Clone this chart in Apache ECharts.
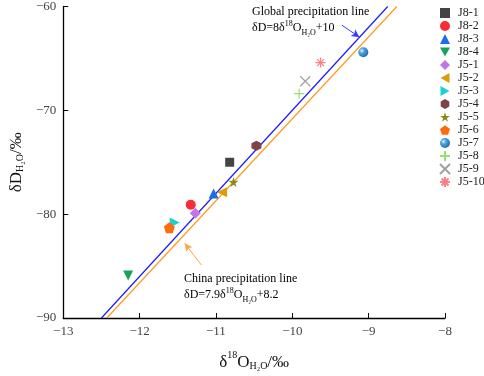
<!DOCTYPE html>
<html lang="en">
<head>
  <meta charset="UTF-8">
  <title>Precipitation lines</title>
  <style>body{margin:0;background:#fff;}</style>
</head>
<body>
  <div id="main" style="width:484px;height:376px;"></div>
  <script src="https://cdn.jsdelivr.net/npm/echarts@6/dist/echarts.min.js"></script>
  <script>
    var myChart = echarts.init(document.getElementById('main'))

    // sample names and isotope values
    var names = ['J8-1', 'J8-2', 'J8-3', 'J8-4', 'J5-1', 'J5-2', 'J5-3', 'J5-4', 'J5-5', 'J5-6', 'J5-7', 'J5-8', 'J5-9', 'J5-10']
    var o18 = [-10.82, -11.33, -11.03, -12.15, -11.27, -10.92, -11.54, -10.47, -10.77, -11.61, -9.07, -9.91, -9.83, -9.63]
    var dD = [-75.0, -79.1, -78.0, -85.9, -79.9, -77.9, -80.8, -73.4, -76.9, -81.3, -64.4, -68.4, -67.2, -65.4]

    // end points of the two meteoric water lines
    var globalLine = [[-12.5, -90], [-8.75, -60]]
    var chinaLine = [[-12.43, -90], [-8.63, -60]]

    // arrows pointing at the lines
    var globalArrow = [[-9.35, -61.8], [-9.12, -62.95]]
    var chinaArrow = [[-11.19, -84.9], [-11.41, -82.8]]

    var xTicks = [-13, -12, -11, -10, -9, -8]
    var yTicks = [-90, -80, -70, -60]

    var serif = '"Liberation Serif", "Times New Roman", serif'

    var styles = [
      { symbol: 'rect', color: '#444444', size: 9 },
      { symbol: 'circle', color: '#fa2b36', size: 10 },
      { symbol: 'triangle', color: '#1a6ee6', size: 10 },
      { symbol: 'path://M0,0 L10,0 L5,9 Z', color: '#16a35e', size: 10 },
      { symbol: 'diamond', color: '#c275e3', size: 11 },
      { symbol: 'path://M9,0 L9,10 L0,5 Z', color: '#dc9c08', size: 10 },
      { symbol: 'path://M0,0 L9,5 L0,10 Z', color: '#19d0d6', size: 10 },
      { symbol: 'path://M50,0 L93,25 L93,75 L50,100 L7,75 L7,25 Z', color: '#7e4444', size: 10 },
      { symbol: 'path://M50,0 L61,35 L98,35 L68,57 L79,91 L50,70 L21,91 L32,57 L2,35 L39,35 Z', color: '#8c8a1c', size: 10 },
      { symbol: 'path://M50,0 L98,35 L79,91 L21,91 L2,35 Z', color: '#ff6a0a', size: 11 },
      { symbol: 'circle', size: 10, color: {
          type: 'radial', x: 0.35, y: 0.35, r: 0.75,
          colorStops: [{ offset: 0, color: '#e4f4ff' }, { offset: 0.35, color: '#4aa3e0' }, { offset: 1, color: '#1b66a8' }]
        } },
      { symbol: 'path://M5,0 L5,10 M0,5 L10,5', color: '#7fd64e', size: 10, line: true },
      { symbol: 'path://M0,0 L10,10 M10,0 L0,10', color: '#8a8a8a', size: 10, line: true },
      { symbol: 'path://M5,0 L5,10 M0,5 L10,5 M1.5,1.5 L8.5,8.5 M8.5,1.5 L1.5,8.5', color: '#ff5d66', size: 10, line: true }
    ]

    var series = names.map(function (n, i) {
      var s = styles[i]
      var itemStyle = s.line
        ? { color: 'rgba(0,0,0,0)', borderColor: s.color, borderWidth: 1.2 }
        : { color: s.color, opacity: 1 }
      return {
        name: n,
        type: 'scatter',
        symbol: s.symbol,
        symbolSize: s.size,
        itemStyle: itemStyle,
        z: 5,
        data: [[o18[i], dD[i]]]
      }
    })

    function arrowMark(pts, color) {
      return {
        silent: true,
        symbol: ['none', 'arrow'],
        symbolSize: [6, 8],
        label: { show: false },
        lineStyle: { color: color, width: 1, type: 'solid' },
        data: [[{ coord: pts[0] }, { coord: pts[1] }]]
      }
    }

    series.push({
      type: 'line', data: globalLine, showSymbol: false, symbol: 'none', silent: true,
      lineStyle: { color: '#1a1aff', width: 1.2 }, z: 3,
      markLine: arrowMark(globalArrow, '#3a3aff')
    })
    series.push({
      type: 'line', data: chinaLine, showSymbol: false, symbol: 'none', silent: true,
      lineStyle: { color: '#ff9a1a', width: 1.2 }, z: 3,
      markLine: arrowMark(chinaArrow, '#ffa640')
    })

    var rich = {
      t: { fontFamily: serif, fontSize: 17, color: '#111', lineHeight: 24, verticalAlign: 'bottom' },
      sup: { fontFamily: serif, fontSize: 10, color: '#111', lineHeight: 24, verticalAlign: 'top', padding: [3, 0, 0, 0] },
      sub: { fontFamily: serif, fontSize: 10, color: '#111', lineHeight: 24, verticalAlign: 'bottom' }
    }
    var smallRich = {
      t: { fontFamily: serif, fontSize: 12, color: '#111', lineHeight: 15 },
      sup: { fontFamily: serif, fontSize: 8, color: '#111', lineHeight: 15, verticalAlign: 'top' },
      sub: { fontFamily: serif, fontSize: 8, color: '#111', lineHeight: 17, verticalAlign: 'bottom' }
    }

    var tickFmt = function (v) { return String(v).replace('-', '\u2212') }

    var options = {
      animation: false,
      backgroundColor: '#fff',
      grid: { left: 53, right: 39, top: 6, bottom: 53 },
      legend: {
        data: names,
        orient: 'vertical',
        left: 439,
        top: 7,
        padding: 0,
        itemWidth: 10,
        itemHeight: 10,
        itemGap: 1,
        textStyle: { fontFamily: serif, fontSize: 12, lineHeight: 12, color: '#222', overflow: 'none', padding: [0, 0, 0, 3] }
      },
      xAxis: {
        type: 'value',
        min: xTicks[0],
        max: xTicks[xTicks.length - 1],
        interval: 1,
        name: '{t|δ}{sup|18}{t|O}{sub|H₂O}{t|/‰}',
        nameLocation: 'middle',
        nameGap: 29,
        nameTextStyle: { rich: rich },
        axisLine: { onZero: false, lineStyle: { color: '#000', width: 1.3 } },
        axisTick: { inside: true, length: 5, lineStyle: { color: '#000' } },
        axisLabel: { formatter: tickFmt, fontFamily: serif, fontSize: 13, color: '#444', margin: 7 },
        splitLine: { show: false }
      },
      yAxis: {
        type: 'value',
        min: yTicks[0],
        max: yTicks[yTicks.length - 1],
        interval: 10,
        name: '{t|δD}{sub|H₂O}{t|/‰}',
        nameLocation: 'middle',
        nameRotate: 90,
        nameGap: 38,
        nameTextStyle: { rich: rich },
        axisLine: { onZero: false, lineStyle: { color: '#000', width: 1.3 } },
        axisTick: { inside: true, length: 5, lineStyle: { color: '#000' } },
        axisLabel: { formatter: tickFmt, fontFamily: serif, fontSize: 13, color: '#444', margin: 7 },
        splitLine: { show: false }
      },
      graphic: [
        {
          type: 'text', left: 252, top: 6,
          style: {
            text: '{t|Global precipitation line}\n{t|δD=8δ}{sup|18}{t|O}{sub|H₂O}{t|+10}',
            rich: smallRich
          }
        },
        {
          type: 'text', left: 184, top: 273,
          style: {
            text: '{t|China precipitation line}\n{t|δD=7.9δ}{sup|18}{t|O}{sub|H₂O}{t|+8.2}',
            rich: smallRich
          }
        }
      ],
      series: series
    }
    myChart.setOption(options)
  </script>
</body>
</html>
